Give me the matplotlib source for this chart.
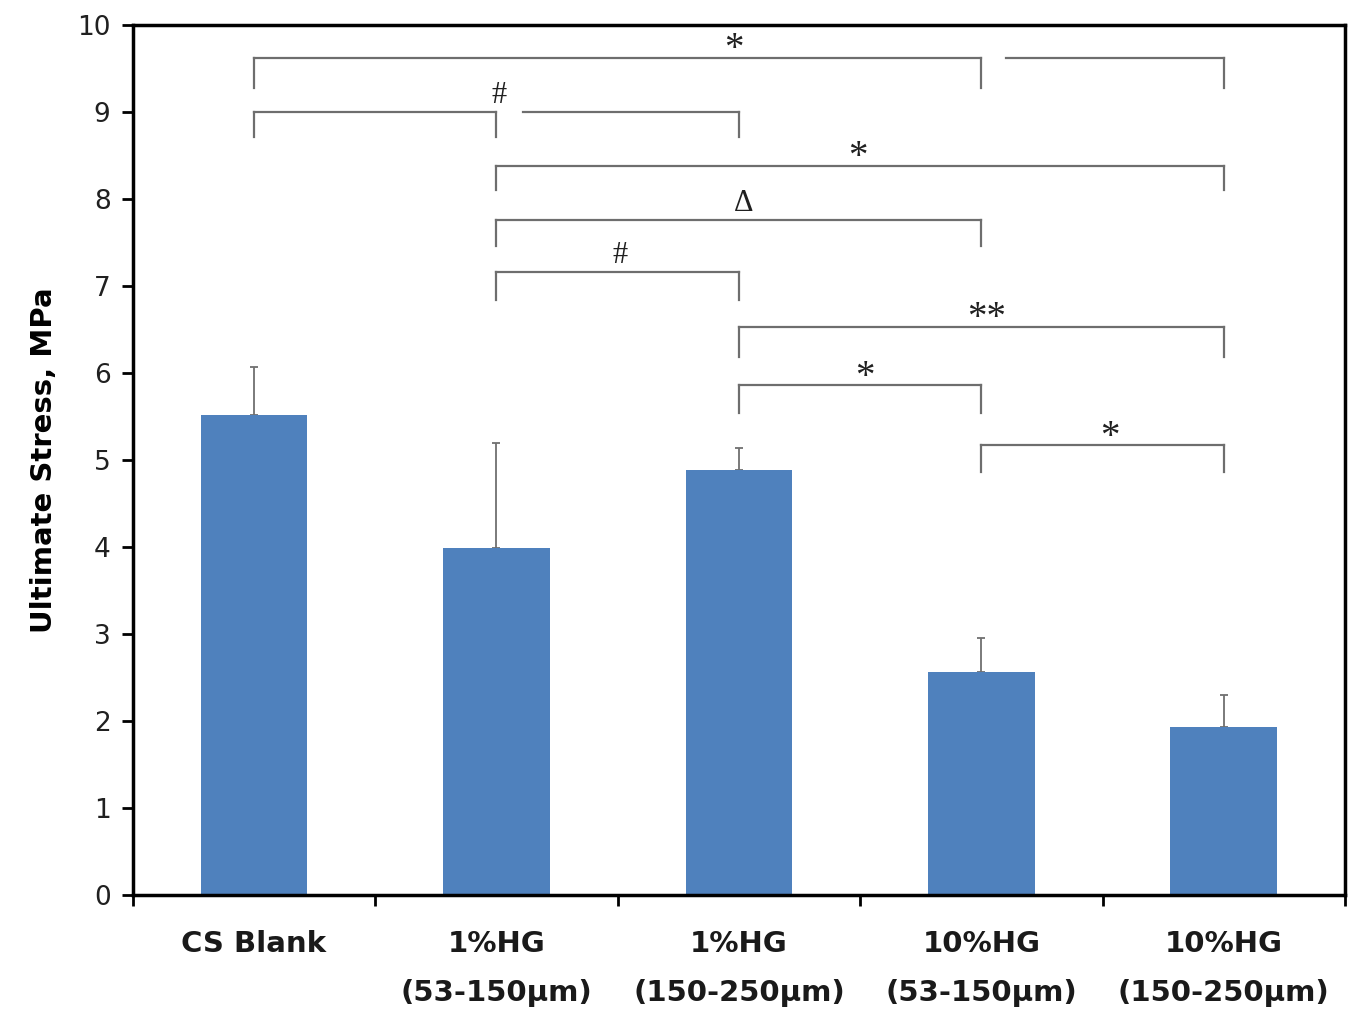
import matplotlib
matplotlib.use("Agg")
import matplotlib.pyplot as plt
import numpy as np

groups = ["CS Blank", "1%HG\n(53-150µm)", "1%HG\n(150-250µm)",
          "10%HG\n(53-150µm)", "10%HG\n(150-250µm)"]
stress = [5.52, 3.99, 4.89, 2.56, 1.93]
err_up = [0.55, 1.20, 0.25, 0.39, 0.37]

# significance brackets: (x_left, x_right, y_line, drop_left, drop_right)
brackets = [
    (0.0, 3.0, 9.62, 9.28, 9.28),
    (3.1, 4.0, 9.62, None, 9.28),
    (0.0, 1.0, 9.00, 8.71, 8.71),
    (1.11, 2.0, 9.00, None, 8.71),
    (1.0, 4.0, 8.38, 8.10, 8.10),
    (1.0, 3.0, 7.76, 7.46, 7.46),
    (1.0, 2.0, 7.16, 6.84, 6.84),
    (2.0, 4.0, 6.53, 6.18, 6.18),
    (2.0, 3.0, 5.86, 5.54, 5.54),
    (3.0, 4.0, 5.17, 4.86, 4.86),
]
marks = ["*", "#", "*", "Δ", "#", "**", "*", "*"]
mark_x = [1.98, 1.01, 2.49, 2.02, 1.51, 3.02, 2.52, 3.53]
mark_y = [9.62, 9.00, 8.38, 7.76, 7.16, 6.53, 5.86, 5.17]

bold_font = ["Liberation Sans Narrow", "DejaVu Sans"]
serif_font = ["Liberation Serif", "DejaVu Serif"]

fig = plt.figure(figsize=(13.55, 10.15), dpi=100)
ax = fig.add_axes([0.098, 0.1182, 0.8946, 0.8572])

x = np.arange(len(groups))
ax.bar(x, stress, width=0.44, color="#4f81bd", zorder=2)
ax.errorbar(x, stress, yerr=[np.zeros(len(err_up)), err_up], fmt="none",
            ecolor="#707070", elinewidth=1.3, capsize=3, capthick=1.3, zorder=1)

for xl, xr, yl, dl, dr in brackets:
    ax.plot([xl, xr], [yl, yl], color="#6e6e6e", lw=1.6)
    if dl is not None:
        ax.plot([xl, xl], [yl, dl], color="#6e6e6e", lw=1.6)
    if dr is not None:
        ax.plot([xr, xr], [yl, dr], color="#6e6e6e", lw=1.6)

for m, mx, my in zip(marks, mark_x, mark_y):
    if "*" in m:
        # asterisks sit high in the font, shift down a little
        ax.text(mx, my - 0.12, m, ha="center", va="bottom", fontsize=28,
                family=serif_font, color="#202020")
    else:
        ax.text(mx, my + 0.02, m, ha="center", va="bottom", fontsize=22,
                family=serif_font, color="#202020")

ax.set_xlim(-0.5, 4.5)
ax.set_ylim(0, 10)
ax.set_yticks(range(0, 11))
ax.set_xticks(np.arange(-0.5, 5.0, 1.0))
ax.set_xticklabels([])
ax.tick_params(axis="y", labelsize=19, length=8, width=2, direction="out",
               labelcolor="#202020", pad=8)
ax.tick_params(axis="x", length=8, width=2, direction="out")
for i, g in enumerate(groups):
    ax.text(i, -0.40, g, ha="center", va="top", fontsize=21, fontweight="bold",
            family=bold_font, linespacing=1.95, color="#1a1a1a")

ax.set_ylabel("Ultimate Stress, MPa", fontsize=21, fontweight="bold",
              family=bold_font, labelpad=14)

for side in ["left", "bottom", "top", "right"]:
    ax.spines[side].set_linewidth(2.5)
    ax.spines[side].set_color("black")

fig.savefig("out.png", dpi=100)
